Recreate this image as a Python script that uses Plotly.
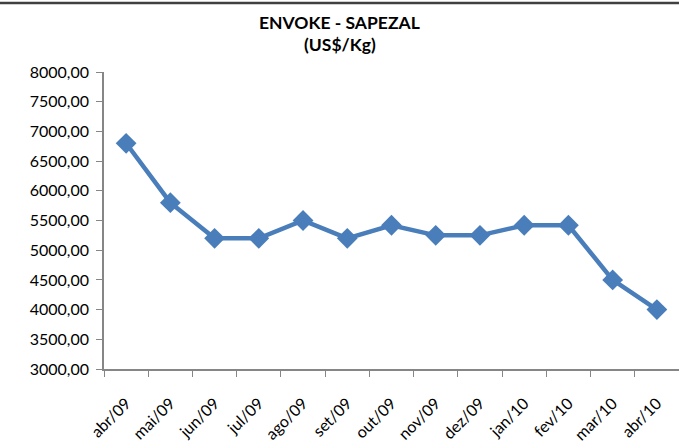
import plotly.graph_objects as go

months = ["abr/09", "mai/09", "jun/09", "jul/09", "ago/09", "set/09", "out/09",
          "nov/09", "dez/09", "jan/10", "fev/10", "mar/10", "abr/10"]
prices = [6800, 5800, 5200, 5200, 5500, 5200, 5420, 5250, 5250, 5420, 5420, 4500, 4000]
y_ticks = [3000, 3500, 4000, 4500, 5000, 5500, 6000, 6500, 7000, 7500, 8000]
title_lines = ["ENVOKE - SAPEZAL", "(US$/Kg)"]

FONT = "Lato, 'Open Sans', sans-serif"

fig = go.Figure()
fig.add_trace(go.Scatter(
    x=months, y=prices, mode="lines+markers",
    line=dict(color="#4A7EBB", width=4.5),
    marker=dict(symbol="diamond", size=16, color="#4A7EBB"),
    showlegend=False, hoverinfo="x+y",
))

for txt, yy in zip(title_lines, [1.168, 1.091]):
    fig.add_annotation(text="<b>%s</b>" % txt, xref="paper", yref="paper",
                       x=0.41, y=yy, xanchor="center", yanchor="middle",
                       showarrow=False,
                       font=dict(family=FONT, size=17.5, color="black"))

fig.update_layout(
    width=679, height=448,
    margin=dict(l=104, r=0, t=72, b=79),
    paper_bgcolor="white", plot_bgcolor="white",
    separators=",.",
    font=dict(family=FONT, size=15, color="black"),
    xaxis=dict(
        type="category", range=[-0.5, 12.5], automargin=False,
        showline=True, linecolor="#868686", linewidth=1.5,
        ticks="outside", tickson="boundaries", ticklen=6, tickcolor="#868686",
        tickangle=-45, showgrid=False, zeroline=False,
        tickfont=dict(family=FONT, size=16, color="black"),
        ticklabelstandoff=17,
    ),
    yaxis=dict(
        range=[3000, 8000], tickvals=y_ticks, tickformat=".2f", automargin=False,
        showline=True, linecolor="#868686", linewidth=1.5,
        ticks="outside", ticklen=6, tickcolor="#868686",
        showgrid=False, zeroline=False,
        tickfont=dict(family=FONT, size=16, color="black"),
        ticklabelstandoff=4,
    ),
    shapes=[dict(type="line", xref="paper", yref="paper",
                 x0=-0.5, x1=1.5, y0=1.232, y1=1.232,
                 line=dict(color="#404040", width=2.5))],
)

fig.write_html("out.html", config={"displayModeBar": False},
               post_script="document.body.style.margin='0';")
